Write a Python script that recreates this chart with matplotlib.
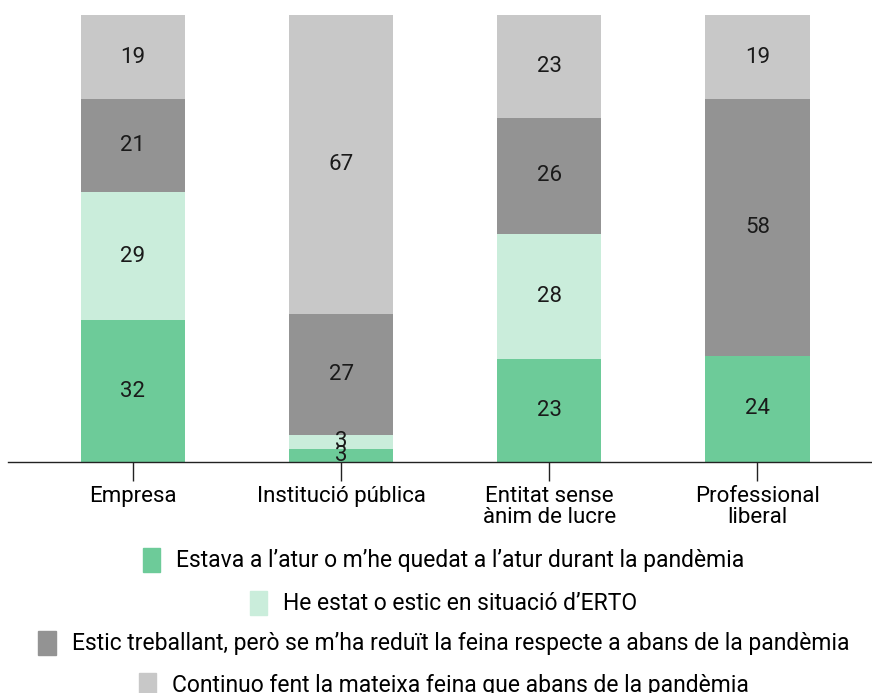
import matplotlib.pyplot as plt
from matplotlib.patches import Patch

plt.rcParams['font.family'] = ['Roboto', 'DejaVu Sans']

categories = ['Empresa', 'Institució pública', 'Entitat sense\nànim de lucre', 'Professional\nliberal']
series_names = [
    'Estava a l’atur o m’he quedat a l’atur durant la pandèmia',
    'He estat o estic en situació d’ERTO',
    'Estic treballant, però se m’ha reduït la feina respecte a abans de la pandèmia',
    'Continuo fent la mateixa feina que abans de la pandèmia',
]
atur = [32, 3, 23, 24]
erto = [29, 3, 28, 0]
reduit = [21, 27, 26, 58]
mateixa = [19, 67, 23, 19]
colors = ['#6dcb99', '#caeddb', '#939393', '#c8c8c8']

series = [atur, erto, reduit, mateixa]
totals = [sum(col) for col in zip(*series)]

fig = plt.figure(figsize=(8.72, 6.93), dpi=100)
ax = fig.add_axes([8 / 872, 231 / 693, 864 / 872, 447 / 693])

x = range(len(categories))
bottom = [0] * len(categories)
for vals, col in zip(series, colors):
    # bars are stacked to 100% (rounded labels don't always add up)
    h = [v / t * 100 for v, t in zip(vals, totals)]
    ax.bar(x, h, width=0.5, bottom=bottom, color=col)
    for i, v in enumerate(vals):
        if v > 0:
            ax.text(i, bottom[i] + h[i] / 2, str(v), ha='center', va='center',
                    fontsize=16, color='#1a1a1a')
    bottom = [b + hh for b, hh in zip(bottom, h)]

ax.set_xlim(-0.6, 3.55)
ax.set_ylim(0, 100)
ax.set_xticks(list(x))
ax.set_xticklabels(categories, fontsize=16, linespacing=1.0)
ax.tick_params(axis='x', length=14, width=1, color='#222222', pad=3)
ax.set_yticks([])
for s in ['top', 'right', 'left']:
    ax.spines[s].set_visible(False)
ax.spines['bottom'].set_color('#222222')
ax.spines['bottom'].set_linewidth(1)

rows_y = [560, 603, 643, 685]
for name, col, yy in zip(series_names, colors, rows_y):
    fig.legend(handles=[Patch(color=col)], labels=[name], loc='center',
               bbox_to_anchor=(0.509, 1 - yy / 693), frameon=False,
               fontsize=16.5, handlelength=0.75, handleheight=1.25,
               handletextpad=0.7, borderpad=0, borderaxespad=0)

fig.savefig('out.png', dpi=100)
